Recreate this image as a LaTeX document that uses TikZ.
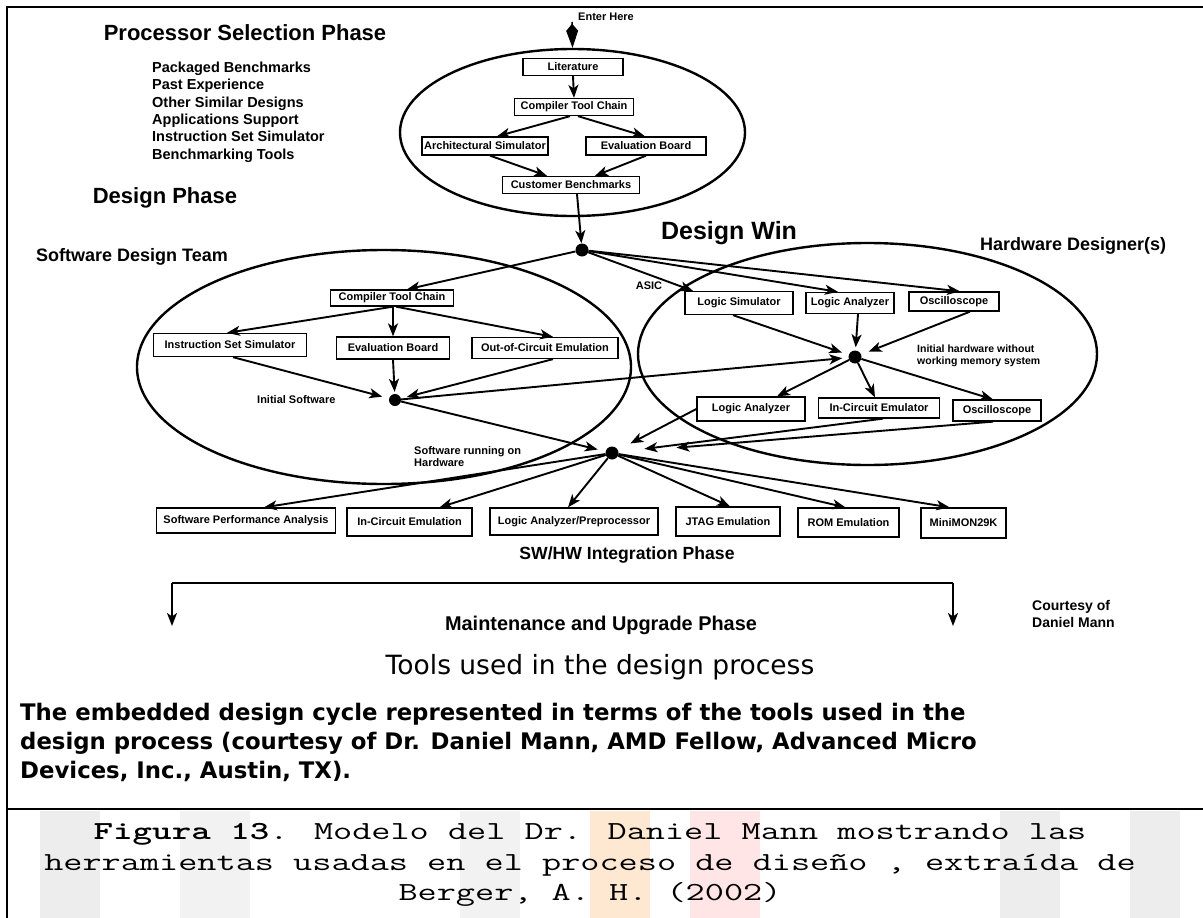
\documentclass[tikz,border=0pt]{standalone}
\usepackage{fontspec}
\setmainfont{Liberation Sans}
\newfontfamily\verdanalike{DejaVu Sans}
\usetikzlibrary{arrows.meta,shapes.geometric}
\begin{document}
\begin{tikzpicture}[x=1pt,y=-1pt,
  tool/.style={draw,line width=1.3pt,inner sep=0pt,minimum height=17pt,font=\bfseries\fontsize{11}{12}\selectfont},
  hub/.style={circle,fill,inner sep=0pt,minimum size=13pt},
  zone/.style={draw,ellipse,line width=2.4pt,inner sep=0pt},
  flow/.style={line width=1.9pt,-{Stealth[length=13pt,width=10pt,inset=3.5pt]}},
  note/.style={font=\bfseries\fontsize{11}{12}\selectfont,inner sep=0pt},
  heading/.style={font=\bfseries\fontsize{22}{26}\selectfont,inner sep=0pt},
  subheading/.style={font=\bfseries\fontsize{18}{22}\selectfont,inner sep=0pt},
]
\useasboundingbox (0,0) rectangle (1203,918);
\fill[white] (0,0) rectangle (1203,918);

% faint watermark bands behind the caption
\fill[black!7] (40,811) rectangle (100,918);
\fill[black!5] (180,811) rectangle (250,918);
\fill[black!5] (460,811) rectangle (520,918);
\fill[orange!18] (590,811) rectangle (650,918);
\fill[red!10] (690,811) rectangle (760,918);
\fill[black!7] (1000,811) rectangle (1060,918);
\fill[black!7] (1130,811) rectangle (1180,918);

% frame
\draw[line width=2.2pt] (7,918) -- (7,7) -- (1203,7);
\draw[line width=2pt] (7,809) -- (1203,809);

% phase regions
\node[zone,minimum width=345pt,minimum height=167pt] (sel) at (572.5,132.5) {};
\node[zone,minimum width=494pt,minimum height=234pt] (sw) at (384,367) {};
\node[zone,minimum width=459pt,minimum height=222pt] (hw) at (867.5,354) {};

% headings
\node[heading] (hsel) at (245,33) {Processor Selection Phase};
\node[font=\bfseries\fontsize{14.5}{17.4}\selectfont,align=left,anchor=west,inner sep=0pt] (crit) at (152,112)
  {Packaged Benchmarks\\Past Experience\\Other Similar Designs\\Applications Support\\Instruction Set Simulator\\Benchmarking Tools};
\node[heading] (hdes) at (165,198) {Design Phase};
\node[font=\bfseries\fontsize{25}{28}\selectfont,inner sep=0pt] (hwin) at (729,233) {Design Win};
\node[subheading,anchor=west] (hhw) at (980,246) {Hardware Designer(s)};
\node[subheading,anchor=west] (hswt) at (36,257) {Software Design Team};

% processor selection flow
\node[note,anchor=west] (enter) at (578,17) {Enter Here};
\coordinate (entry) at (572,22);
\node[tool,minimum width=100pt] (lit) at (573,67) {Literature};
\node[tool,minimum width=119pt] (cmpa) at (574,107) {Compiler Tool Chain};
\node[tool,minimum width=126pt,minimum height=18pt] (arch) at (485,146) {Architectural Simulator};
\node[tool,minimum width=120pt,minimum height=18pt] (evba) at (646,146) {Evaluation Board};
\node[tool,minimum width=137pt] (cust) at (571,185) {Customer Benchmarks};
\node[hub] (win) at (582,250) {};

\draw[line width=1.5pt,-{Kite[length=24pt,width=12pt,inset=7pt]}] (entry) -- (sel.north);
\draw[flow] (lit.south) -- (cmpa.north);
\draw[flow] ([xshift=-4pt]cmpa.south) -- ([xshift=12pt]arch.north);
\draw[flow] ([xshift=4pt]cmpa.south) -- ([xshift=-1pt]evba.north);
\draw[flow] ([xshift=5pt]arch.south) -- ([xshift=-24pt]cust.north);
\draw[flow] (evba.south) -- ([xshift=24pt]cust.north);
\draw[flow] ([xshift=6pt]cust.south) -- (win);

% software design team
\node[tool,minimum width=123pt,minimum height=16pt] (cmpb) at (392,298) {Compiler Tool Chain};
\node[tool,minimum width=153pt,minimum height=23pt] (iss) at (230,345) {Instruction Set Simulator};
\node[tool,minimum width=113pt,minimum height=22pt] (evbb) at (393,348) {Evaluation Board};
\node[tool,minimum width=146pt,minimum height=21pt] (ooc) at (545,348) {Out-of-Circuit Emulation};
\node[hub,minimum size=12pt] (isw) at (395,400) {};
\node[note,anchor=west] (lisw) at (257,400) {Initial Software};

\draw[flow] (win) -- ([xshift=15pt]cmpb.north);
\draw[flow] ([xshift=1pt]cmpb.south) -- ([xshift=-3pt]iss.north);
\draw[flow] ([xshift=1pt]cmpb.south) -- (evbb.north);
\draw[flow] ([xshift=4pt]cmpb.south) -- ([xshift=8pt]ooc.north);
\draw[flow,shorten >=7pt] ([xshift=3pt]iss.south) -- (isw);
\draw[flow,shorten >=2pt] (evbb.south) -- (isw);
\draw[flow,shorten >=6pt] ([xshift=8pt]ooc.south) -- (isw);

% hardware designers
\node[tool,minimum width=108pt,minimum height=23pt] (lsim) at (739,303) {Logic Simulator};
\node[tool,minimum width=88pt,minimum height=21pt] (lana) at (850,303) {Logic Analyzer};
\node[tool,minimum width=90pt,minimum height=19pt] (osca) at (954,301.5) {Oscilloscope};
\node[hub] (hwd) at (855,357) {};
\node[note,anchor=west,align=left,font=\bfseries\fontsize{10.5}{12}\selectfont] (lhwd) at (917,356) {Initial hardware without\\working memory system};
\node[note] (asic) at (649,286) {ASIC};
\node[tool,minimum width=108pt,minimum height=24pt] (lanb) at (751,409) {Logic Analyzer};
\node[tool,minimum width=121pt,minimum height=20pt] (ice) at (879,408) {In-Circuit Emulator};
\node[tool,minimum width=88pt,minimum height=21pt] (oscb) at (997,410.5) {Oscilloscope};

\draw[flow] (win) -- ([xshift=-46pt]lsim.north);
\draw[flow] (win) -- ([xshift=-12pt]lana.north);
\draw[flow] (win) -- ([xshift=6pt]osca.north);
\draw[flow,shorten >=7pt] ([xshift=-6pt]lsim.south) -- (hwd);
\draw[flow,shorten >=3pt] ([xshift=8pt]lana.south) -- (hwd);
\draw[flow,shorten >=8pt] ([xshift=16pt]osca.south) -- (hwd);
\draw[flow,shorten >=6pt] (isw) -- (hwd);
\draw[flow] (hwd) -- ([xshift=26pt]lanb.north);
\draw[flow] (hwd) -- ([xshift=-4pt]ice.north);
\draw[flow] (hwd) -- ([xshift=-4pt]oscb.north);

% SW/HW integration
\node[hub] (integ) at (612,453) {};
\node[note,anchor=west,align=left] (linteg) at (414,457) {Software running on\\Hardware};
\draw[flow,shorten >=8pt] (isw) -- (integ);
\draw[flow,shorten >=14pt] (lanb.west) -- (integ);
\draw[flow,shorten >=26pt] ([xshift=4pt]ice.south) -- (integ);
\draw[flow,shorten >=58pt] ([xshift=-4pt]oscb.south) -- (integ);

\node[tool,minimum width=179pt,minimum height=25pt] (spa) at (246,520.5) {Software Performance Analysis};
\node[tool,minimum width=125pt,minimum height=28pt] (icem) at (409.5,522) {In-Circuit Emulation};
\node[tool,minimum width=168pt,minimum height=27pt] (lap) at (574,521.5) {Logic Analyzer/Preprocessor};
\node[tool,minimum width=104pt,minimum height=29pt] (jtag) at (728,521.5) {JTAG Emulation};
\node[tool,minimum width=101pt,minimum height=29pt] (rom) at (848.5,522.5) {ROM Emulation};
\node[tool,minimum width=85pt,minimum height=30pt] (mini) at (963.5,523) {MiniMON29K};

\draw[flow] (integ) -- ([xshift=18pt]spa.north);
\draw[flow] (integ) -- ([xshift=30pt]icem.north);
\draw[flow] (integ) -- ([xshift=-6pt]lap.north);
\draw[flow] (integ) -- ([xshift=2pt]jtag.north);
\draw[flow] (integ) -- ([xshift=-3pt]rom.north);
\draw[flow] (integ) -- ([xshift=-14pt]mini.north);

\node[font=\bfseries\fontsize{17.6}{20}\selectfont,inner sep=0pt] (hint) at (627,555) {SW/HW Integration Phase};

% maintenance bracket
\coordinate (mleft) at (172,583);
\coordinate (mright) at (953,583);
\coordinate (mlefttip) at (172,626);
\coordinate (mrighttip) at (953,626);
\draw[line width=1.9pt] (mleft) -- (mright);
\draw[flow] (mleft) -- (mlefttip);
\draw[flow] (mright) -- (mrighttip);
\node[font=\bfseries\fontsize{19.9}{22}\selectfont,inner sep=0pt] (hmaint) at (601,625) {Maintenance and Upgrade Phase};
\node[font=\bfseries\fontsize{14}{17}\selectfont,align=left,anchor=west,inner sep=0pt] (court) at (1032,614) {Courtesy of\\Daniel Mann};

\node[font=\verdanalike\fontsize{26.5}{30}\selectfont,inner sep=0pt] (tools) at (600,667) {Tools used in the design process};

% captions
\node[font=\verdanalike\bfseries\fontsize{22.8}{29}\selectfont,align=left,anchor=north west,inner sep=0pt] (capen) at (20,703)
  {The embedded design cycle represented in terms of the tools used in the\\
   design process (courtesy of Dr. Daniel Mann, AMD Fellow, Advanced Micro\\
   Devices, Inc., Austin, TX).};
\node[font=\ttfamily\fontsize{26}{30.5}\selectfont,align=center,inner sep=0pt] (capes) at (590,865)
  {\scalebox{1.43}[1]{\textbf{Figura 13}. Modelo del Dr. Daniel Mann mostrando las}\\
   \scalebox{1.43}[1]{herramientas usadas en el proceso de diseño , extraída de}\\
   \scalebox{1.43}[1]{Berger, A. H. (2002)}};
\end{tikzpicture}
\end{document}
